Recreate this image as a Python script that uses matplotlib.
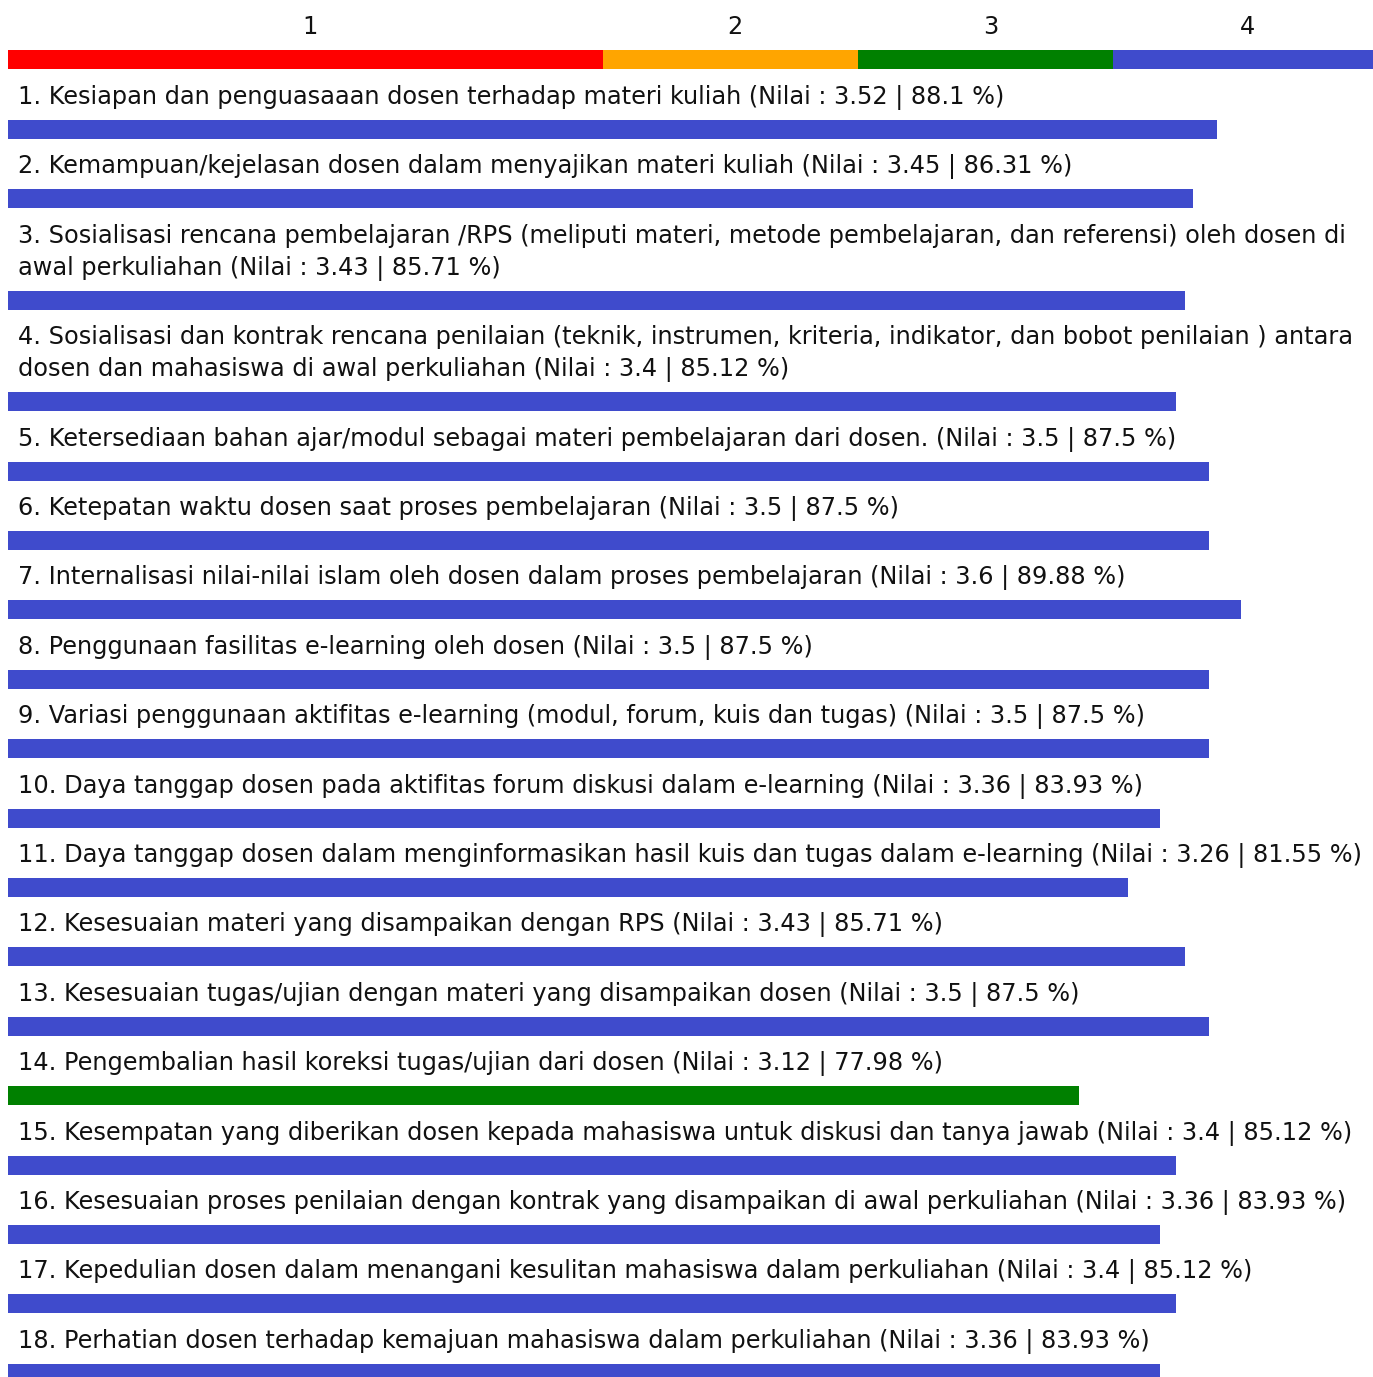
import matplotlib
matplotlib.use("Agg")
import matplotlib.pyplot as plt

# scale legend (percent bounds of each band)
scale_labels = ["1", "2", "3", "4"]
scale_bounds = [0, 43.75, 62.5, 81.25, 100]
scale_colors = ["#ff0000", "#ffa500", "#008000", "#3f4bcc"]

questions = [
    "Kesiapan dan penguasaaan dosen terhadap materi kuliah",
    "Kemampuan/kejelasan dosen dalam menyajikan materi kuliah",
    "Sosialisasi rencana pembelajaran /RPS (meliputi materi, metode pembelajaran, dan referensi) oleh dosen di\nawal perkuliahan",
    "Sosialisasi dan kontrak rencana penilaian (teknik, instrumen, kriteria, indikator, dan bobot penilaian ) antara\ndosen dan mahasiswa di awal perkuliahan",
    "Ketersediaan bahan ajar/modul sebagai materi pembelajaran dari dosen.",
    "Ketepatan waktu dosen saat proses pembelajaran",
    "Internalisasi nilai-nilai islam oleh dosen dalam proses pembelajaran",
    "Penggunaan fasilitas e-learning oleh dosen",
    "Variasi penggunaan aktifitas e-learning (modul, forum, kuis dan tugas)",
    "Daya tanggap dosen pada aktifitas forum diskusi dalam e-learning",
    "Daya tanggap dosen dalam menginformasikan hasil kuis dan tugas dalam e-learning",
    "Kesesuaian materi yang disampaikan dengan RPS",
    "Kesesuaian tugas/ujian dengan materi yang disampaikan dosen",
    "Pengembalian hasil koreksi tugas/ujian dari dosen",
    "Kesempatan yang diberikan dosen kepada mahasiswa untuk diskusi dan tanya jawab",
    "Kesesuaian proses penilaian dengan kontrak yang disampaikan di awal perkuliahan",
    "Kepedulian dosen dalam menangani kesulitan mahasiswa dalam perkuliahan",
    "Perhatian dosen terhadap kemajuan mahasiswa dalam perkuliahan",
]
nilai = [3.52, 3.45, 3.43, 3.4, 3.5, 3.5, 3.6, 3.5, 3.5, 3.36, 3.26, 3.43, 3.5, 3.12, 3.4, 3.36, 3.4, 3.36]
persen = [88.1, 86.31, 85.71, 85.12, 87.5, 87.5, 89.88, 87.5, 87.5, 83.93, 81.55, 85.71, 87.5, 77.98, 85.12, 83.93, 85.12, 83.93]

W, H = 1373, 1377
fig = plt.figure(figsize=(W / 100, H / 100), dpi=100)

# top scale axis: 0% at px 8, 13.6 px per %
ax_top = fig.add_axes([0, 0, 1, 1])
ax_top.set_xlim(-8 / 13.6, (W - 8) / 13.6)
ax_top.set_ylim(H, 0)
ax_top.axis("off")

# bars axis: 0% at px 18, 13.61 px per %
ax = fig.add_axes([0, 0, 1, 1])
ax.set_xlim(-18 / 13.61, (W - 18) / 13.61)
ax.set_ylim(H, 0)
ax.axis("off")

font = dict(family="DejaVu Sans", fontsize=17.3, color="#111111")

for i, lab in enumerate(scale_labels):
    lo, hi = scale_bounds[i], scale_bounds[i + 1]
    if i == len(scale_labels) - 1:
        hi = ax_top.get_xlim()[1]
    ax_top.barh(59.5, hi - lo, left=lo, height=19, color=scale_colors[i], linewidth=0)
    ax_top.text((lo + hi) / 2 + 0.35, 34, lab, ha="center", va="baseline", **font)


def bar_color(p):
    for k in range(len(scale_colors)):
        if p < scale_bounds[k + 1]:
            return scale_colors[k]
    return scale_colors[-1]


bar_left = -10 / 13.61
y = 96.0
for i, q in enumerate(questions):
    label = f"{i + 1}. {q} (Nilai : {nilai[i]} | {persen[i]} %)"
    lines = label.split("\n")
    for k, line in enumerate(lines):
        ax.text(0, y + 8 + 32 * k, line, ha="left", va="baseline", **font)
    last = y + 32 * (len(lines) - 1)
    ax.barh(last + 33.5, persen[i] - bar_left, left=bar_left, height=19,
            color=bar_color(persen[i]), linewidth=0)
    y += 69.4 + 32 * (len(lines) - 1)

fig.savefig("out.png", dpi=100)
